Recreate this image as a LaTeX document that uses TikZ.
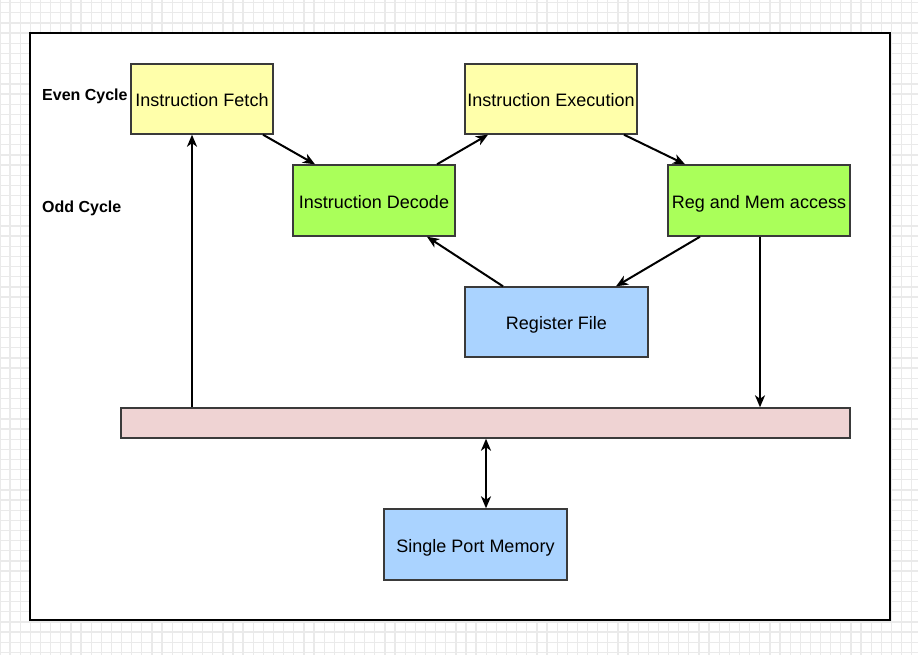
\documentclass[tikz,border=0pt]{standalone}
\usepackage{fontspec}
\setmainfont{Liberation Sans}
\usetikzlibrary{arrows.meta}
\definecolor{gridc}{HTML}{EAEAEA}
\definecolor{yel}{HTML}{FFFFAA}
\definecolor{grn}{HTML}{AAFF5A}
\definecolor{blu}{HTML}{AAD3FF}
\definecolor{pnk}{HTML}{EFD3D3}
\definecolor{bord}{HTML}{3A3A3A}
\tikzset{
  box/.style={draw=bord, line width=1.4pt, inner sep=0pt, text height=15pt, text depth=0pt, font=\fontsize{18}{20}\selectfont},
  lab/.style={font=\bfseries\fontsize{16}{18}\selectfont, inner sep=0pt, anchor=west},
  conn/.style={line width=2pt, -{Stealth[length=12pt,width=10pt,inset=3.5pt]}},
  conn2/.style={line width=2pt, {Stealth[length=12pt,width=10pt,inset=3.5pt]}-{Stealth[length=12pt,width=10pt,inset=3.5pt]}}
}
\begin{document}
\begin{tikzpicture}[x=1pt,y=-1pt]
\useasboundingbox (0,0) rectangle (918,655);
\fill[white] (0,0) rectangle (918,655);
\foreach \i in {0,...,91} {\draw[gridc, line width=1.3pt] ({\i*10.13},0) -- ({\i*10.13},655);}
\foreach \j in {0,...,64} {\draw[gridc, line width=1.3pt] (0,{2.7+\j*10.15}) -- (918,{2.7+\j*10.15});}
\draw[black, fill=white, line width=1.4pt] (30,33) rectangle (890,620);

\node[box, fill=yel, minimum width=142pt, minimum height=70pt] (fetch) at (202,99) {Instruction Fetch};
\node[box, fill=grn, minimum width=162pt, minimum height=71pt] (decode) at (374,200.5) {Instruction Decode};
\node[box, fill=yel, minimum width=172pt, minimum height=70pt] (exec) at (551,99) {Instruction Execution};
\node[box, fill=grn, minimum width=182pt, minimum height=71pt] (regmem) at (759,200.5) {Reg and Mem access};
\node[box, fill=blu, minimum width=183pt, minimum height=70pt] (regfile) at (556.5,322) {Register File};
\node[box, fill=pnk, minimum width=729pt, minimum height=30pt] (bus) at (485.5,423) {};
\node[box, fill=blu, minimum width=183pt, minimum height=71pt] (mem) at (475.5,544.5) {Single Port Memory};

\node[lab] (even) at (42,96) {Even Cycle};
\node[lab] (odd) at (42,208) {Odd Cycle};

\draw[conn] ([xshift=61pt]fetch.south) -- ([xshift=-59pt]decode.north);
\draw[conn] ([xshift=63pt]decode.north) -- ([xshift=-63pt]exec.south);
\draw[conn] ([xshift=73pt]exec.south) -- ([xshift=-74pt]regmem.north);
\draw[conn] ([xshift=-59pt]regmem.south) -- ([xshift=59.5pt]regfile.north);
\draw[conn] ([xshift=-53.5pt]regfile.north) -- ([xshift=53pt]decode.south);
\draw[conn] ([xshift=1pt]regmem.south) -- ([xshift=274.5pt]bus.north);
\draw[conn] ([xshift=-293.5pt]bus.north) -- ([xshift=-10pt]fetch.south);
\draw[conn2] ([xshift=10.5pt]mem.north) -- ([xshift=0.5pt]bus.south);
\end{tikzpicture}
\end{document}
